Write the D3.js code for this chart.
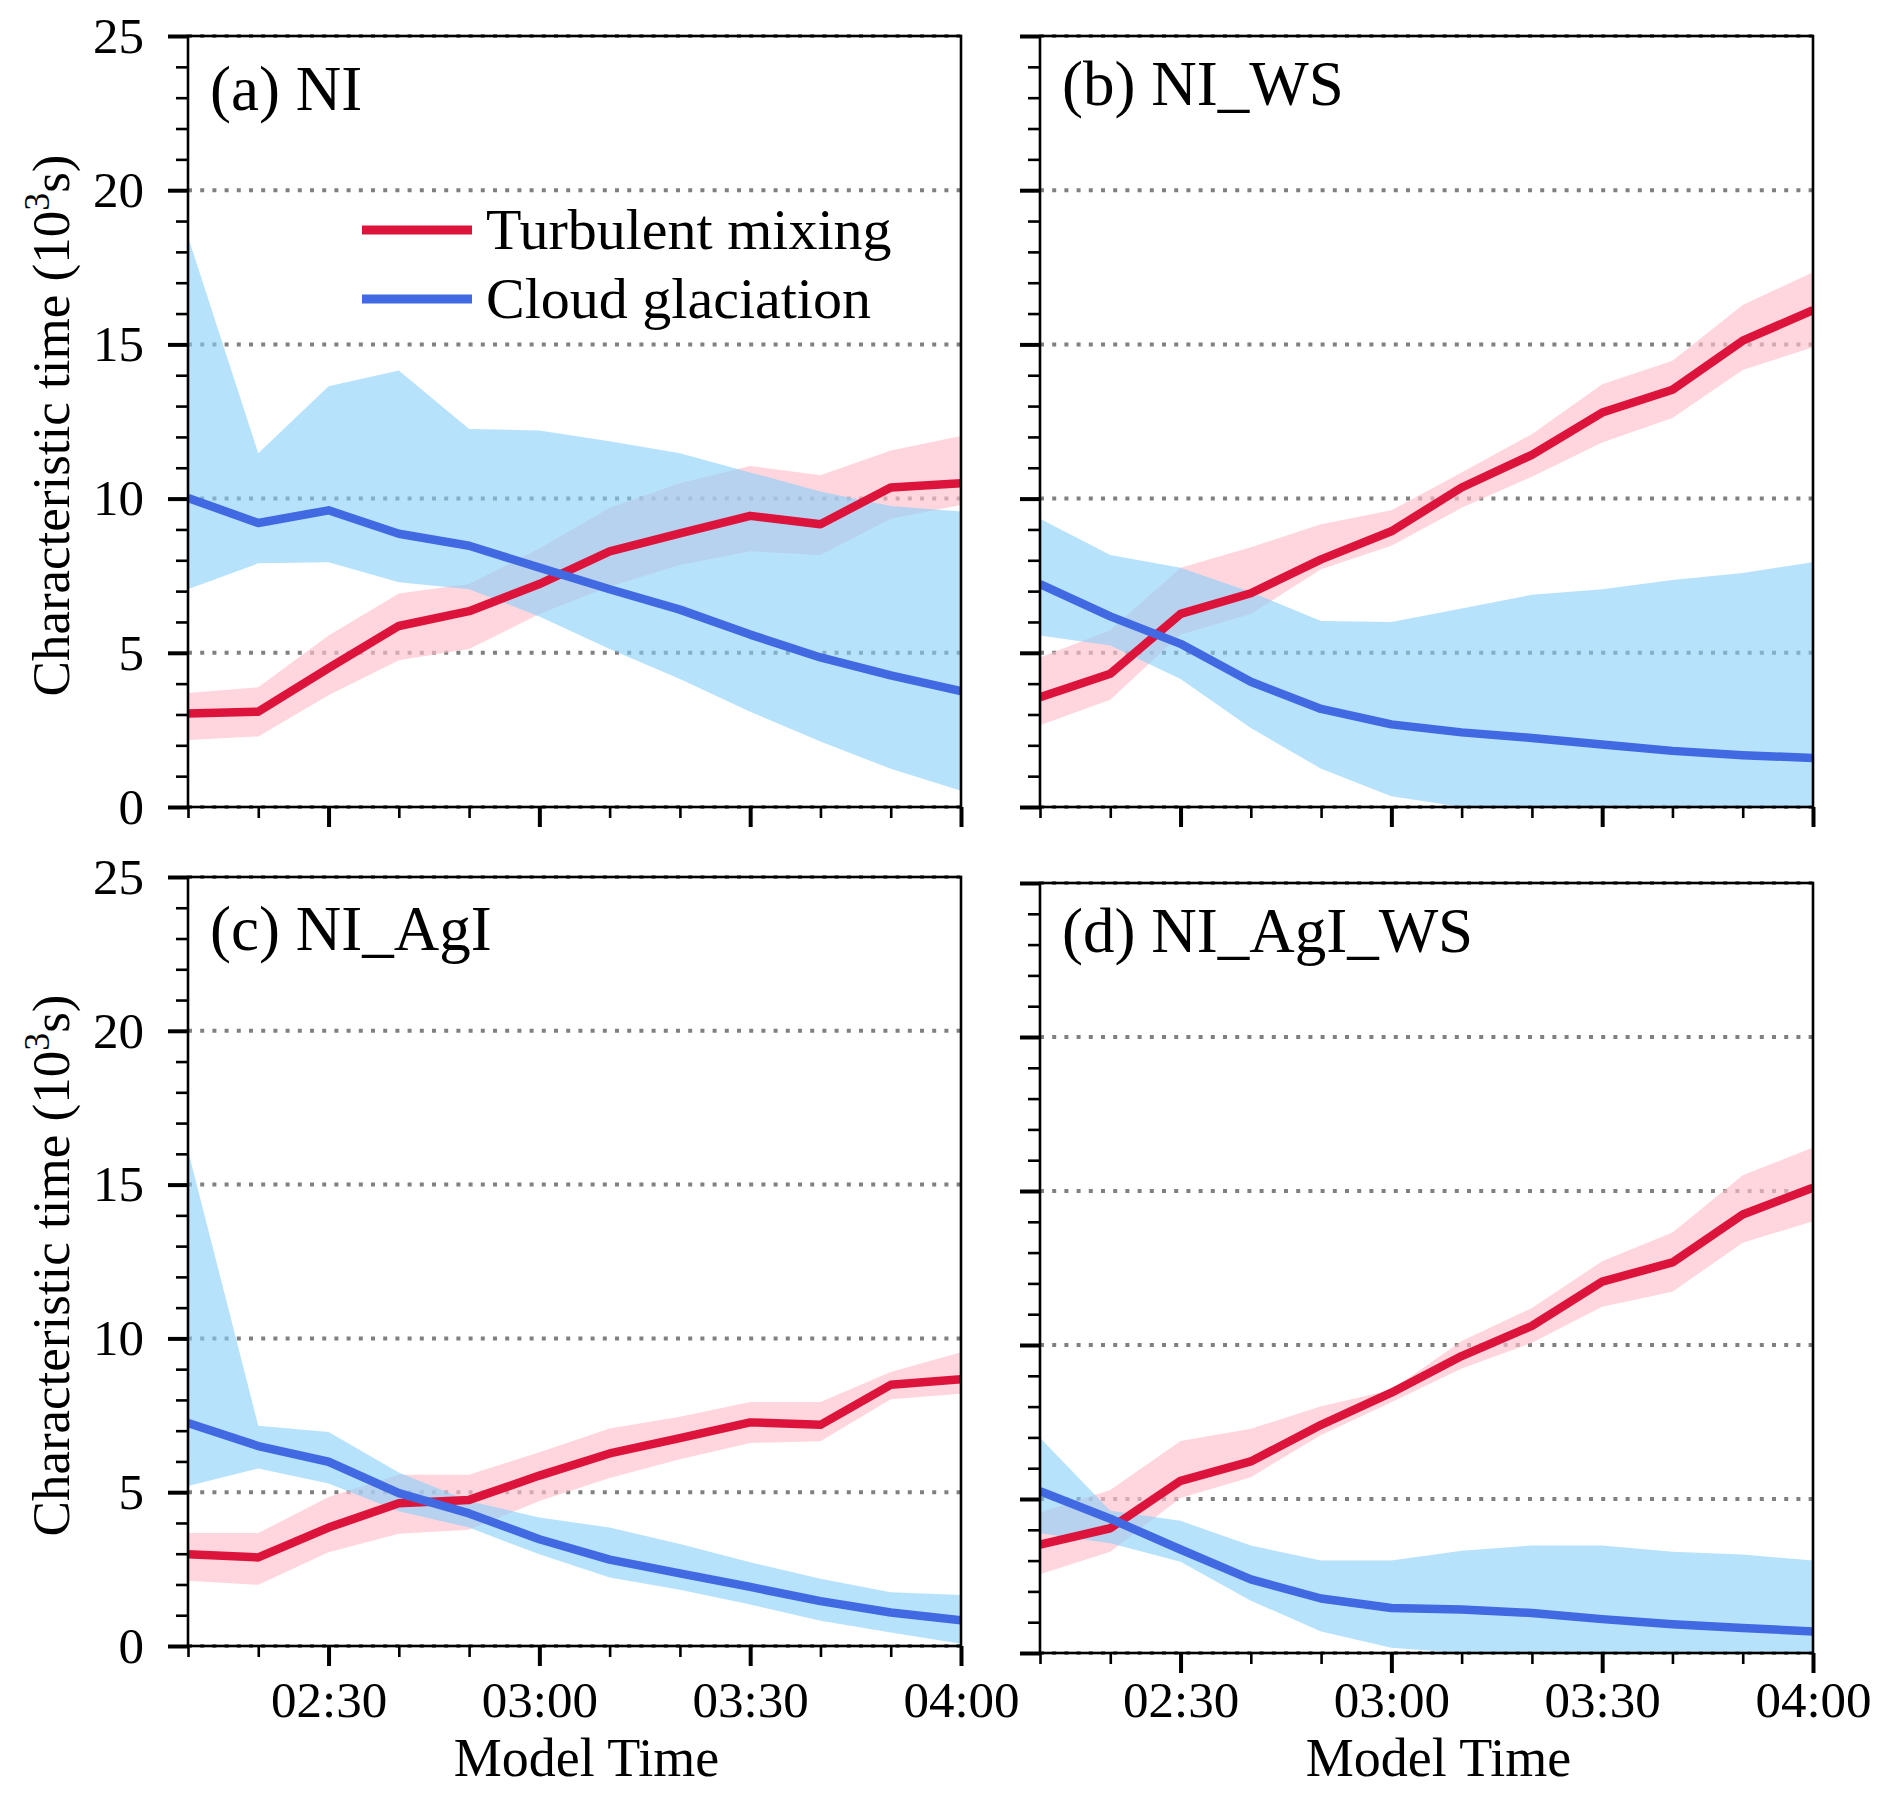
<!DOCTYPE html>
<html lang="en">
<head>
  <meta charset="UTF-8">
  <title>Characteristic time</title>
  <script src="https://unpkg.com/d3@7/dist/d3.min.js"></script>
  <style>
    body { margin: 0; background: #fff; }
    svg text { font-family: "Liberation Serif", "Times New Roman", serif; fill: #000; }
  </style>
</head>
<body>
  <svg id="chart" width="1892" height="1794"></svg>
  <script>
    // model output times, every 10 minutes
    const times = ['02:10', '02:20', '02:30', '02:40', '02:50', '03:00',
                   '03:10', '03:20', '03:30', '03:40', '03:50', '04:00'];
    const xTickLabels = ['02:30', '03:00', '03:30', '04:00'];
    const yTicks = [0, 5, 10, 15, 20, 25];
    const seriesNames = ['Turbulent mixing', 'Cloud glaciation'];
    const panelTitles = ['(a) NI', '(b) NI_WS', '(c) NI_AgI', '(d) NI_AgI_WS'];

    // (a) NI
    const niMix     = [3.03, 3.09, 4.5, 5.87, 6.35, 7.23, 8.29, 8.87, 9.44, 9.17, 10.36, 10.5];
    const niMixLo   = [2.17, 2.29, 3.62, 4.76, 5.12, 6.26, 7.15, 7.85, 8.29, 8.17, 9.35, 9.79];
    const niMixHi   = [3.7, 3.88, 5.56, 6.92, 7.23, 8.38, 9.7, 10.5, 11.06, 10.76, 11.56, 12.03];
    const niGlac    = [10.02, 9.21, 9.62, 8.86, 8.47, 7.76, 7.06, 6.4, 5.59, 4.85, 4.27, 3.76];
    const niGlacLo  = [7.06, 7.9, 7.94, 7.29, 7.06, 6.18, 5.12, 4.15, 3.09, 2.12, 1.24, 0.53];
    const niGlacHi  = [18.49, 11.47, 13.64, 14.15, 12.26, 12.21, 11.86, 11.47, 10.85, 10.23, 9.76, 9.58];

    // (b) NI_WS
    const wsMix     = [3.56, 4.32, 6.26, 6.93, 8.03, 8.94, 10.36, 11.42, 12.79, 13.53, 15.12, 16.11];
    const wsMixLo   = [2.65, 3.48, 5.59, 6.26, 7.71, 8.47, 9.7, 10.71, 11.82, 12.61, 14.17, 14.91];
    const wsMixHi   = [4.85, 5.73, 7.76, 8.42, 9.17, 9.62, 10.85, 12.09, 13.71, 14.47, 16.28, 17.34];
    const wsGlac    = [7.23, 6.18, 5.29, 4.06, 3.18, 2.68, 2.42, 2.24, 2.03, 1.82, 1.68, 1.59];
    const wsGlacLo  = [5.56, 5.24, 4.15, 2.56, 1.24, 0.35, 0, 0, 0, 0, 0, 0];
    const wsGlacHi  = [9.35, 8.17, 7.76, 6.97, 6.03, 6.0, 6.44, 6.88, 7.06, 7.36, 7.59, 7.94];

    // (c) NI_AgI
    const agiMix    = [2.98, 2.88, 3.85, 4.64, 4.75, 5.54, 6.26, 6.76, 7.27, 7.19, 8.49, 8.67];
    const agiMixLo  = [2.12, 1.99, 3.05, 3.65, 3.78, 4.71, 5.46, 6.07, 6.6, 6.66, 8.02, 8.2];
    const agiMixHi  = [3.67, 3.67, 4.84, 5.57, 5.57, 6.3, 7.07, 7.45, 7.93, 7.93, 8.91, 9.55];
    const agiGlac   = [7.25, 6.5, 5.99, 4.97, 4.31, 3.47, 2.81, 2.36, 1.92, 1.46, 1.09, 0.84];
    const agiGlacLo = [5.2, 5.77, 5.28, 4.38, 3.85, 2.98, 2.23, 1.83, 1.35, 0.82, 0.44, 0.07];
    const agiGlacHi = [16.11, 7.16, 6.96, 5.64, 4.71, 4.18, 3.85, 3.32, 2.72, 2.19, 1.75, 1.66];

    // (d) NI_AgI_WS
    const agiwsMix    = [3.52, 4.05, 5.59, 6.22, 7.41, 8.45, 9.64, 10.62, 12.06, 12.68, 14.24, 15.11];
    const agiwsMixLo  = [2.56, 3.29, 5.03, 5.71, 7.08, 8.14, 9.24, 10.07, 11.24, 11.73, 13.32, 14.02];
    const agiwsMixHi  = [4.56, 5.29, 6.88, 7.28, 8.01, 8.54, 10.13, 11.2, 12.72, 13.65, 15.51, 16.41];
    const agiwsGlac   = [5.25, 4.36, 3.36, 2.39, 1.77, 1.46, 1.41, 1.3, 1.1, 0.93, 0.81, 0.7];
    const agiwsGlacLo = [3.89, 3.56, 2.96, 1.7, 0.7, 0.17, 0, 0, 0, 0, 0, 0];
    const agiwsGlacHi = [6.99, 4.62, 4.29, 3.49, 3.0, 3.0, 3.32, 3.49, 3.49, 3.29, 3.2, 3.0];

    const mixColor = '#dc143c', mixFill = 'pink';
    const glacColor = '#4169e1', glacFill = 'lightskyblue';

    const parseTime = d3.timeParse('%H:%M');
    const fmtTime = d3.timeFormat('%H:%M');
    const dates = times.map(parseTime);

    const toRows = (mean, lo, hi) => dates.map((t, i) => ({ t, v: mean[i], lo: lo[i], hi: hi[i] }));

    const panels = [
      { title: panelTitles[0], x0: 188, x1: 961, y0: 36, y1: 807, left: true, bottom: false, titleDy: 74,
        mix: toRows(niMix, niMixLo, niMixHi), glac: toRows(niGlac, niGlacLo, niGlacHi) },
      { title: panelTitles[1], x0: 1040, x1: 1813, y0: 36, y1: 807, left: false, bottom: false, titleDy: 69,
        mix: toRows(wsMix, wsMixLo, wsMixHi), glac: toRows(wsGlac, wsGlacLo, wsGlacHi) },
      { title: panelTitles[2], x0: 188, x1: 961, y0: 877, y1: 1646, left: true, bottom: true, titleDy: 73, tickPad: 15,
        mix: toRows(agiMix, agiMixLo, agiMixHi), glac: toRows(agiGlac, agiGlacLo, agiGlacHi) },
      { title: panelTitles[3], x0: 1040, x1: 1813, y0: 883, y1: 1653, left: false, bottom: true, titleDy: 69, tickPad: 8,
        mix: toRows(agiwsMix, agiwsMixLo, agiwsMixHi), glac: toRows(agiwsGlac, agiwsGlacLo, agiwsGlacHi) }
    ];

    const svg = d3.select('#chart');

    panels.forEach((p, k) => {
      const w = p.x1 - p.x0, h = p.y1 - p.y0;
      const x = d3.scaleTime().domain(d3.extent(dates)).range([0, w]);
      const y = d3.scaleLinear().domain([0, 25]).range([h, 0]);

      const g = svg.append('g').attr('transform', `translate(${p.x0}, ${p.y0})`);

      g.append('clipPath').attr('id', `clip${k}`)
        .append('rect').attr('width', w).attr('height', h);

      // dotted horizontal grid
      g.append('g').selectAll('line').data(yTicks)
        .enter().append('line')
          .attr('x1', 0).attr('x2', w)
          .attr('y1', d => y(d)).attr('y2', d => y(d))
          .attr('stroke', '#808080')
          .attr('stroke-width', 4)
          .attr('stroke-dasharray', '4 8.2');

      const plot = g.append('g').attr('clip-path', `url(#clip${k})`);

      const band = d3.area().x(d => x(d.t)).y0(d => y(d.lo)).y1(d => y(d.hi));
      const line = d3.line().x(d => x(d.t)).y(d => y(d.v));

      plot.append('path').attr('d', band(p.mix))
        .attr('fill', mixFill).attr('fill-opacity', 0.65);
      plot.append('path').attr('d', band(p.glac))
        .attr('fill', glacFill).attr('fill-opacity', 0.6);

      plot.append('path').attr('d', line(p.mix))
        .attr('fill', 'none').attr('stroke', mixColor)
        .attr('stroke-width', 8.5).attr('stroke-linejoin', 'round');
      plot.append('path').attr('d', line(p.glac))
        .attr('fill', 'none').attr('stroke', glacColor)
        .attr('stroke-width', 8.5).attr('stroke-linejoin', 'round');

      // y axis: major and minor ticks
      const majorY = d3.axisLeft(y).tickValues(yTicks).tickSize(20).tickPadding(24)
        .tickFormat(p.left ? d3.format('d') : '');
      const minorY = d3.axisLeft(y).tickValues(d3.range(0, 26).filter(v => v % 5)).tickSize(12).tickFormat('');

      const yMinorG = g.append('g').call(minorY);
      yMinorG.select('.domain').remove();
      yMinorG.selectAll('.tick line').attr('stroke-width', 2.6);
      const yMajorG = g.append('g').call(majorY);
      yMajorG.select('.domain').remove();
      yMajorG.selectAll('.tick line').attr('stroke-width', 4);
      yMajorG.selectAll('text').style('font-size', '51px');

      // x axis: majors on the half hours, minors every 10 minutes
      const majorDates = xTickLabels.map(parseTime);
      const minorDates = dates.filter(d => !xTickLabels.includes(fmtTime(d)));
      const majorX = d3.axisBottom(x).tickValues(majorDates).tickSize(20).tickPadding(p.tickPad || 15)
        .tickFormat(p.bottom ? fmtTime : '');
      const minorX = d3.axisBottom(x).tickValues(minorDates).tickSize(11).tickFormat('');

      const xMinorG = g.append('g').attr('transform', `translate(0, ${h})`).call(minorX);
      xMinorG.select('.domain').remove();
      xMinorG.selectAll('.tick line').attr('stroke-width', 2.6);
      const xMajorG = g.append('g').attr('transform', `translate(0, ${h})`).call(majorX);
      xMajorG.select('.domain').remove();
      xMajorG.selectAll('.tick line').attr('stroke-width', 4);
      xMajorG.selectAll('text').style('font-size', '51px');

      // frame
      g.append('rect').attr('width', w).attr('height', h)
        .attr('fill', 'none').attr('stroke', '#000').attr('stroke-width', 2.6);

      g.append('text')
        .attr('x', 22).attr('y', p.titleDy)
        .style('font-size', '63px')
        .text(p.title);

      if (p.left) {
        g.append('text')
          .attr('transform', `translate(${69 - p.x0}, ${h / 2 + 4}) rotate(-90)`)
          .attr('text-anchor', 'middle')
          .style('font-size', '53px')
          .call(t => {
            t.append('tspan').text('Characteristic time (10');
            t.append('tspan').attr('baseline-shift', 'super').style('font-size', '36px').text('3');
            t.append('tspan').text('s)');
          });
      }

      if (p.bottom) {
        g.append('text')
          .attr('x', w / 2 + 12).attr('y', 1776 - p.y0)
          .attr('text-anchor', 'middle')
          .style('font-size', '54px')
          .text('Model Time');
      }

      // legend in panel (a) only
      if (k === 0) {
        const legend = g.append('g').attr('transform', `translate(${362 - p.x0}, ${230 - p.y0})`);
        const items = legend.selectAll('g').data(seriesNames)
          .enter().append('g')
            .attr('transform', (d, i) => `translate(0, ${i * 69})`);
        items.append('line')
          .attr('x1', 0).attr('x2', 110)
          .attr('stroke', (d, i) => i === 0 ? mixColor : glacColor)
          .attr('stroke-width', 9);
        items.append('text')
          .attr('x', 124).attr('y', 0)
          .attr('dy', '0.33em')
          .style('font-size', '58px')
          .text(d => d);
      }
    });
  </script>
</body>
</html>
